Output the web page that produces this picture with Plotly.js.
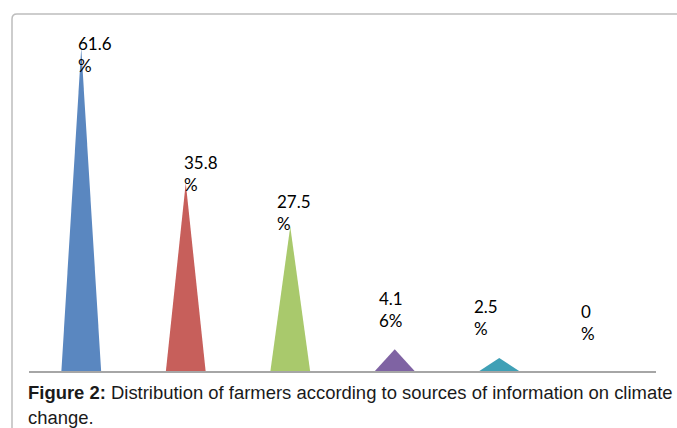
<!DOCTYPE html>
<html>
<head>
<meta charset="utf-8">
<script src="https://cdn.plot.ly/plotly-3.0.1.min.js"></script>
<style>html,body{margin:0;padding:0;background:#fff;}#chart{width:677px;height:428px;}</style>
</head>
<body>
<div id="chart"></div>
<script>
// ---- data ----
var categories = ["S1", "S2", "S3", "S4", "S5", "S6"];
var values = [61.6, 35.8, 27.5, 4.16, 2.5, 0];
var labels = ["61.6<br>%", "35.8<br>%", "27.5<br>%", "4.1<br>6%", "2.5<br>%", "0<br>%"];
var colors = ["#5a87c0", "#c75f5b", "#a9c96c", "#7f63a3", "#3fa0b6", "#f79646"];
var caption1 = "<b>Figure 2:</b> Distribution of farmers according to sources of information on climate";
var caption2 = "change.";

// ---- styling / placement ----
var W = 677, H = 428;
var M = {l: 29, r: 21, t: 44, b: 57};
var halfWidth = 0.19;           // half base width of each cone, in category units
var labelShift = [[-5, 17], [-4, 33], [-15, 38], [-18, 63], [-27, 64], [-25, 72]];
var plotH = H - M.t - M.b, plotW = W - M.l - M.r;
function py(p) { return (H - M.b - p) / plotH; }
function px(p) { return (p - M.l) / plotW; }

var traces = values.map(function (v, i) {
  return {
    type: "scatter",
    mode: "lines",
    x: [i - halfWidth, i, i + halfWidth, i - halfWidth],
    y: [0, v, 0, 0],
    fill: "toself",
    fillcolor: colors[i],
    line: {width: 0, color: colors[i]},
    hoverinfo: "skip",
    showlegend: false,
    name: categories[i]
  };
});

var annotations = values.map(function (v, i) {
  return {
    xref: "x", yref: "y", x: i, y: v,
    xanchor: "left", yanchor: "top",
    xshift: labelShift[i][0], yshift: labelShift[i][1],
    text: labels[i], align: "left", showarrow: false,
    font: {family: "Lato, 'Open Sans', sans-serif", size: 17, color: "#000"}
  };
});
annotations.push({
  xref: "paper", yref: "paper", x: px(26), y: py(380),
  xanchor: "left", yanchor: "top", showarrow: false, align: "left",
  text: caption1,
  font: {family: "'Liberation Sans', Arial, sans-serif", size: 18.45, color: "#1a1a1a"}
});
annotations.push({
  xref: "paper", yref: "paper", x: px(26), y: py(405),
  xanchor: "left", yanchor: "top", showarrow: false, align: "left",
  text: caption2,
  font: {family: "'Liberation Sans', Arial, sans-serif", size: 18.45, color: "#1a1a1a"}
});

var r = 5;
var borderPath = "M " + px(700) + "," + py(14) + " L " + px(12 + r) + "," + py(14) +
  " Q " + px(12) + "," + py(14) + " " + px(12) + "," + py(14 + r) +
  " L " + px(12) + "," + py(440);

var layout = {
  width: W, height: H,
  margin: M,
  paper_bgcolor: "#fff", plot_bgcolor: "#fff",
  xaxis: {range: [-0.5, 5.5], showgrid: false, zeroline: false, showticklabels: false,
          ticks: "", showline: true, linecolor: "#a6a6a6", linewidth: 1.5, fixedrange: true},
  yaxis: {range: [0, 62.3], visible: false, fixedrange: true},
  annotations: annotations,
  shapes: [{type: "path", xref: "paper", yref: "paper", path: borderPath,
            line: {color: "#bdbdbd", width: 1.5}, layer: "below"}]
};

Plotly.newPlot("chart", traces, layout, {staticPlot: true, displayModeBar: false});
</script>
</body>
</html>
